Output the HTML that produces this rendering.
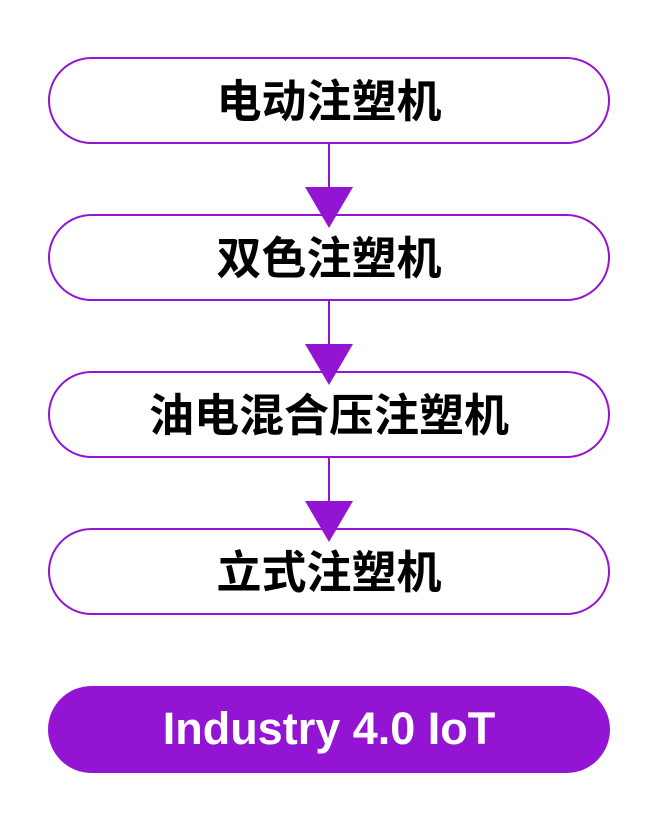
<!DOCTYPE html>
<html><head><meta charset="utf-8"><style>
body{margin:0;width:659px;height:814px;background:#fff;position:relative;overflow:hidden}
.b{position:absolute;left:48px;width:562px;height:87px;box-sizing:border-box;border:2px solid #9414d4;border-radius:44px;background:#fff;display:flex;align-items:center;justify-content:center;font:bold 45px "Liberation Sans","Noto Sans CJK SC",sans-serif;color:#000;padding-bottom:6px}
.f{background:#9414d4;color:#fff;border:none;font-size:45px;padding-bottom:2px}
</style></head><body>
<svg width="659" height="814" style="position:absolute;left:0;top:0">
<g stroke="#9414d4" stroke-width="2"><line x1="329" y1="144" x2="329" y2="200"/><line x1="329" y1="301" x2="329" y2="357"/><line x1="329" y1="458" x2="329" y2="514"/></g>
</svg>
<div class="b" style="top:57px">电动注塑机</div>
<div class="b" style="top:214px">双色注塑机</div>
<div class="b" style="top:371px">油电混合压注塑机</div>
<div class="b" style="top:528px">立式注塑机</div>
<div class="b f" style="top:686px">Industry 4.0 IoT</div>
<svg width="659" height="814" style="position:absolute;left:0;top:0;pointer-events:none">
<g fill="#9414d4"><polygon points="305,187 353,187 329,228"/><polygon points="305,344 353,344 329,385"/><polygon points="305,501 353,501 329,542"/></g>
</svg>
</body></html>
